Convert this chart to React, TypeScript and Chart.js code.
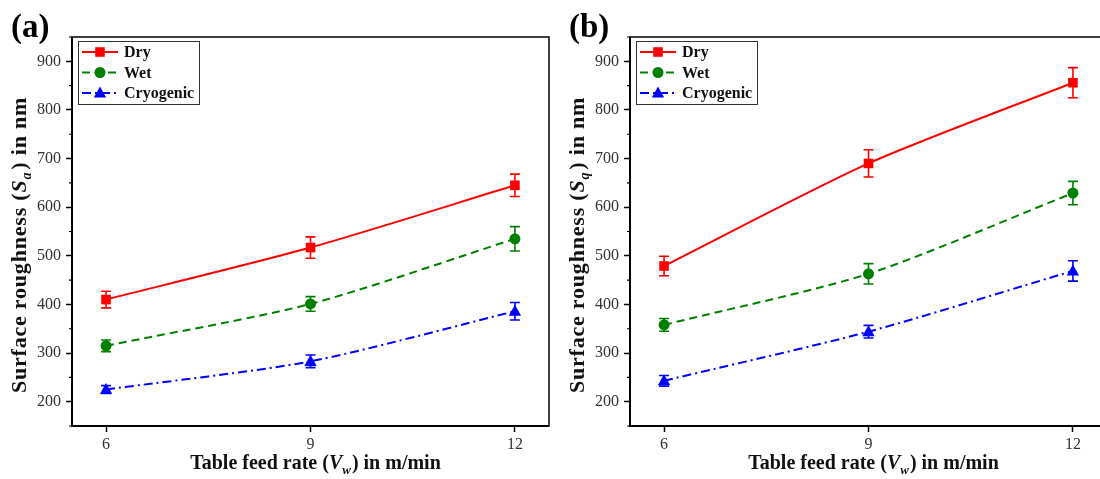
import React, { useEffect, useRef } from "react";
import { Chart, registerables } from "chart.js";

Chart.register(...registerables);

const xValues = [6, 9, 12];
const xTicks = [6, 9, 12];
const yTicks = [200, 300, 400, 500, 600, 700, 800, 900];
const yMinorTicks = [150, 250, 350, 450, 550, 650, 750, 850, 950];
const seriesNames = ["Dry", "Wet", "Cryogenic"];

const dryA = [410, 517, 645];
const dryAErr = [17, 22, 23];
const wetA = [315, 401, 535];
const wetAErr = [12, 15, 25];
const cryoA = [225, 283, 386];
const cryoAErr = [8, 13, 18];

const dryB = [479, 690, 856];
const dryBErr = [20, 28, 31];
const wetB = [358, 463, 629];
const wetBErr = [13, 21, 24];
const cryoB = [243, 344, 469];
const cryoBErr = [11, 13, 21];

const FONT = "'Liberation Serif', 'Times New Roman', serif";

const styles = [
  { color: "#ff0000", dash: [] as number[], point: "rect", radius: 4.8 },
  { color: "#008000", dash: [8, 5], point: "circle", radius: 5.5 },
  { color: "#0000ff", dash: [9, 4, 2, 4], point: "triangle", radius: 6.5 },
];

function drawMarker(ctx: CanvasRenderingContext2D, kind: string, x: number, y: number, r: number, color: string) {
  ctx.save();
  ctx.fillStyle = color;
  ctx.beginPath();
  if (kind === "rect") {
    ctx.rect(x - r, y - r, 2 * r, 2 * r);
  } else if (kind === "circle") {
    ctx.arc(x, y, r, 0, Math.PI * 2);
  } else {
    ctx.moveTo(x, y - r);
    ctx.lineTo(x + r * 0.95, y + r * 0.7);
    ctx.lineTo(x - r * 0.95, y + r * 0.7);
    ctx.closePath();
  }
  ctx.fill();
  ctx.restore();
}

function makeConfig(values: number[][], errors: number[][], panel: string, sub: string) {
  const datasets = values.map((vals, i) => ({
    label: seriesNames[i],
    data: xValues.map((x, j) => ({ x, y: vals[j] })),
    borderColor: styles[i].color,
    backgroundColor: styles[i].color,
    borderWidth: 2,
    borderDash: styles[i].dash,
    tension: 0.25,
    pointStyle: styles[i].point,
    pointRadius: 0,
    pointHoverRadius: 0,
    fill: false,
  }));

  const overlay = {
    id: "overlay",
    beforeDatasetsDraw(chart: any) {
      const ctx = chart.ctx as CanvasRenderingContext2D;
      const xs = chart.scales.x;
      const ys = chart.scales.y;
      errors.forEach((errs, i) => {
        ctx.save();
        ctx.strokeStyle = styles[i].color;
        ctx.lineWidth = 1.6;
        errs.forEach((e, j) => {
          const px = xs.getPixelForValue(xValues[j]);
          const top = ys.getPixelForValue(values[i][j] + e);
          const bot = ys.getPixelForValue(values[i][j] - e);
          ctx.beginPath();
          ctx.moveTo(px, top);
          ctx.lineTo(px, bot);
          ctx.moveTo(px - 5, top);
          ctx.lineTo(px + 5, top);
          ctx.moveTo(px - 5, bot);
          ctx.lineTo(px + 5, bot);
          ctx.stroke();
        });
        ctx.restore();
      });
    },
    afterDatasetsDraw(chart: any) {
      const ctx = chart.ctx as CanvasRenderingContext2D;
      const xs = chart.scales.x;
      const ys = chart.scales.y;
      const a = chart.chartArea;
      values.forEach((vals, i) => {
        vals.forEach((v, j) => {
          drawMarker(ctx, styles[i].point, xs.getPixelForValue(xValues[j]), ys.getPixelForValue(v), styles[i].radius, styles[i].color);
        });
      });
      // frame
      ctx.save();
      ctx.strokeStyle = "#000";
      ctx.lineWidth = 1.5;
      ctx.strokeRect(a.left, a.top, a.right - a.left, a.bottom - a.top);
      ctx.lineWidth = 2;
      ctx.beginPath();
      ctx.moveTo(a.left, a.top);
      ctx.lineTo(a.left, a.bottom);
      ctx.lineTo(a.right, a.bottom);
      ctx.stroke();
      ctx.lineWidth = 1.2;
      ctx.beginPath();
      yMinorTicks.forEach((t) => {
        const py = ys.getPixelForValue(t);
        if (py >= a.top - 0.5 && py <= a.bottom + 0.5) {
          ctx.moveTo(a.left, py);
          ctx.lineTo(a.left - 3, py);
        }
      });
      ctx.stroke();
      ctx.restore();

      // legend
      ctx.save();
      const lx = a.left + 6;
      const ly = a.top + 4;
      ctx.fillStyle = "#fff";
      ctx.fillRect(lx, ly, 121, 63);
      ctx.strokeStyle = "#333";
      ctx.lineWidth = 1;
      ctx.strokeRect(lx + 0.5, ly + 0.5, 121, 63);
      ctx.font = `bold 16px ${FONT}`;
      ctx.textBaseline = "middle";
      seriesNames.forEach((name, i) => {
        const ry = ly + 11 + i * 20.5;
        ctx.save();
        ctx.strokeStyle = styles[i].color;
        ctx.lineWidth = 2;
        ctx.setLineDash(styles[i].dash);
        ctx.beginPath();
        ctx.moveTo(lx + 4, ry);
        ctx.lineTo(lx + 40, ry);
        ctx.stroke();
        ctx.restore();
        drawMarker(ctx, styles[i].point, lx + 22, ry, styles[i].radius, styles[i].color);
        ctx.fillStyle = "#111";
        ctx.fillText(name, lx + 46, ry + 1);
      });
      ctx.restore();

      // x title
      ctx.save();
      ctx.fillStyle = "#111";
      const cx = (a.left + a.right) / 2 + 5;
      const parts: [string, string, number, number][] = [
        ["Table feed rate (", `bold 20px ${FONT}`, 0, 0],
        ["V", `italic bold 20px ${FONT}`, 0, 0],
        ["w", `italic bold 13px ${FONT}`, 5, 1],
        [") in m/min", `bold 20px ${FONT}`, 0, 0],
      ];
      let total = 0;
      parts.forEach((p) => {
        ctx.font = p[1];
        total += ctx.measureText(p[0]).width + p[3];
      });
      let px = cx - total / 2;
      ctx.textBaseline = "alphabetic";
      parts.forEach((p) => {
        ctx.font = p[1];
        ctx.fillText(p[0], px, 469 + p[2]);
        px += ctx.measureText(p[0]).width + p[3];
      });
      ctx.restore();

      // y title
      ctx.save();
      ctx.fillStyle = "#111";
      ctx.translate(26, 245);
      ctx.rotate(-Math.PI / 2);
      (ctx as any).letterSpacing = "0.8px";
      const yparts: [string, string, number, number][] = [
        ["Surface roughness (", `bold 22px ${FONT}`, 0, 0],
        ["S", `italic bold 22px ${FONT}`, 0, 0],
        [sub, `italic bold 14px ${FONT}`, 5, 2],
        [") in nm", `bold 22px ${FONT}`, 0, 0],
      ];
      let ytotal = 0;
      yparts.forEach((p) => {
        ctx.font = p[1];
        ytotal += ctx.measureText(p[0]).width + p[3];
      });
      let qx = -ytotal / 2;
      ctx.textBaseline = "alphabetic";
      yparts.forEach((p) => {
        ctx.font = p[1];
        ctx.fillText(p[0], qx, p[2]);
        qx += ctx.measureText(p[0]).width + p[3];
      });
      ctx.restore();

      // panel label
      ctx.save();
      ctx.fillStyle = "#000";
      ctx.font = `bold 33px ${FONT}`;
      ctx.textBaseline = "alphabetic";
      ctx.fillText(panel, 11, 37);
      ctx.restore();
    },
  };

  return {
    type: "line" as const,
    data: { datasets },
    options: {
      animation: false as const,
      responsive: false,
      devicePixelRatio: 1,
      layout: { padding: { top: 37, right: 11, left: 0, bottom: 0 } },
      plugins: { legend: { display: false }, tooltip: { enabled: false } },
      scales: {
        x: {
          type: "linear" as const,
          min: 5.5,
          max: 12.5,
          afterBuildTicks: (s: any) => {
            s.ticks = xTicks.map((v) => ({ value: v }));
          },
          afterFit: (s: any) => {
            s.height = 53;
          },
          grid: { display: true, drawOnChartArea: false, drawTicks: true, tickLength: 6, tickColor: "#000", tickWidth: 1.5 },
          border: { display: false },
          ticks: { font: { family: FONT, size: 16 }, color: "#333", padding: 3, maxRotation: 0, autoSkip: false, callback: (v: any) => String(v) },
        },
        y: {
          type: "linear" as const,
          min: 150,
          max: 950,
          afterBuildTicks: (s: any) => {
            s.ticks = yTicks.map((v) => ({ value: v }));
          },
          afterFit: (s: any) => {
            s.width = 72;
          },
          grid: { display: true, drawOnChartArea: false, drawTicks: true, tickLength: 6, tickColor: "#000", tickWidth: 1.5 },
          border: { display: false },
          ticks: { font: { family: FONT, size: 16 }, color: "#333", padding: 5, autoSkip: false, callback: (v: any) => String(v) },
        },
      },
    },
    plugins: [overlay],
  };
}

function Panel({ left, values, errors, panel, sub }: { left: number; values: number[][]; errors: number[][]; panel: string; sub: string }) {
  const ref = useRef<HTMLCanvasElement>(null);
  useEffect(() => {
    if (!ref.current) return;
    const chart = new Chart(ref.current, makeConfig(values, errors, panel, sub) as any);
    return () => chart.destroy();
  }, []);
  return <canvas ref={ref} width={560} height={479} style={{ position: "absolute", left, top: 0, width: 560, height: 479 }} />;
}

export default function App() {
  return (
    <div style={{ position: "fixed", left: 0, top: 0, width: 1100, height: 479, overflow: "hidden", background: "#fff" }}>
      <Panel left={0} values={[dryA, wetA, cryoA]} errors={[dryAErr, wetAErr, cryoAErr]} panel="(a)" sub="a" />
      <Panel left={558} values={[dryB, wetB, cryoB]} errors={[dryBErr, wetBErr, cryoBErr]} panel="(b)" sub="q" />
    </div>
  );
}
